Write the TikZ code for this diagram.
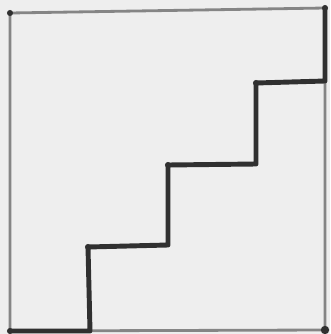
\documentclass[tikz,border=0pt]{standalone}
\usepackage[dvipsnames,svgnames]{xcolor}
\usepackage{tikz}
\usetikzlibrary{calc}

\definecolor{paper}{HTML}{EEEEEE}
\definecolor{pencil}{HTML}{858585}
\definecolor{marker}{HTML}{303030}

\begin{document}
\begin{tikzpicture}[
  x=0.3mm, y=-0.3mm,
  frame/.style={pencil, line width=2.4pt},
  stairline/.style={marker, line width=4.2pt, line join=round, line cap=round},
]
\fill[paper] (0,0) rectangle (330,334);
\useasboundingbox (0,0) rectangle (330,334);

% corners of the square
\coordinate (tl) at (10,13);
\coordinate (tr) at (325,8);
\coordinate (br) at (325,330);
\coordinate (bl) at (10,331);

% corners of the steps
\coordinate (s1) at (90,331);
\coordinate (s2) at (88,247);
\coordinate (s3) at (168,245);
\coordinate (s4) at (168,165);
\coordinate (s5) at (256,164);
\coordinate (s6) at (256,83);
\coordinate (s7) at (325,81);

% square
\draw[frame] (tl) -- (tr) -- (br) -- (bl) -- cycle;

% stairs
\draw[stairline] (bl) -- (s1) -- (s2) -- (s3) -- (s4) -- (s5) -- (s6) -- (s7) -- (tr);

% dots
\foreach \p in {tl, tr, bl, s2, s4, s6}
  \fill[marker] (\p) circle (2.6pt);
\fill[marker] (br) circle (3.6pt);

\end{tikzpicture}
\end{document}
